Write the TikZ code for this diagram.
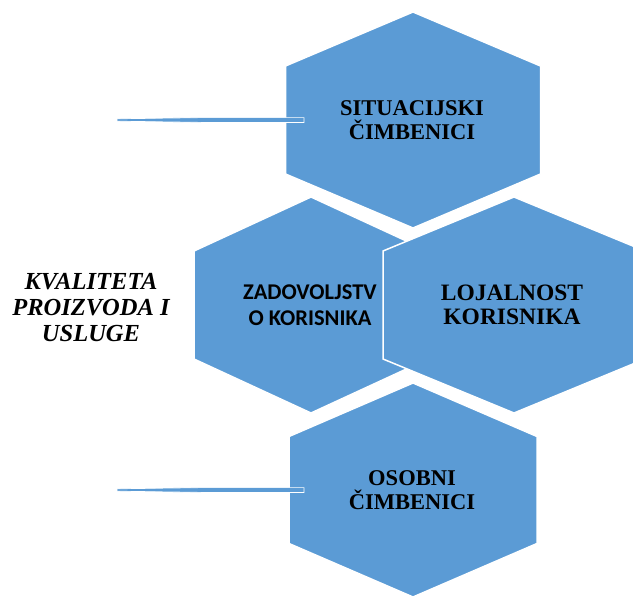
\documentclass[tikz,border=0pt]{standalone}
\usepackage{fontspec}
\setmainfont{Liberation Serif}
\newfontfamily\calibrifont{Carlito}
\usetikzlibrary{calc}
\definecolor{cellBlue}{HTML}{5B9BD5}

\begin{document}
\begin{tikzpicture}[
    x=1pt, y=-1pt,
    hex_style/.style={fill=cellBlue, draw=white, line width=1.5pt},
    tail_style/.style={fill=cellBlue, draw=white, line width=0.7pt},
    serif_label/.style={font=\bfseries\fontsize{22.5}{23.6}\selectfont, align=center, inner sep=0},
    big_label/.style={font=\bfseries\fontsize{23.5}{24.5}\selectfont, align=center, inner sep=0},
    sans_label/.style={font=\calibrifont\bfseries\fontsize{22.5}{26}\selectfont, align=center, inner sep=0},
    side_label/.style={font=\bfseries\itshape\fontsize{24.5}{26}\selectfont, align=center, inner sep=0}
]
    \useasboundingbox (0,0) rectangle (633,597);

    % --- 绘制宏 ---
    % 六边形: 名称, 中心, 半宽, 半高
    \newcommand{\hexcell}[4]{
        \coordinate (#1) at (#2);
        \begin{scope}[shift={(#1)}]
            \filldraw[hex_style] (0,-#4) -- (#3,-#4/2) -- (#3,#4/2) -- (0,#4) -- (-#3,#4/2) -- (-#3,-#4/2) -- cycle;
        \end{scope}
    }
    % 左侧细线: 起点, 终点
    \newcommand{\tailline}[2]{
        \filldraw[tail_style] ($(#1)+(0,-1.2)$) -- ($(#1)!0.45!(#2)+(0,-2.4)$) -- ($(#2)+(0,-2.4)$)
            -- ($(#2)+(0,2.4)$) -- ($(#1)!0.45!(#2)+(0,2.4)$) -- ($(#1)+(0,1.2)$) -- cycle;
    }

    % --- 六边形 ---
    \hexcell{sitCell}{413,120}{127.5}{108}
    \hexcell{zadCell}{311,305}{117}{108}
    \hexcell{lojCell}{514,305}{131}{108}
    \hexcell{osoCell}{413,490}{124}{107}

    % --- 细线 ---
    \coordinate (sitTail) at (117,120);
    \coordinate (sitHead) at (304,120);
    \coordinate (osoTail) at (117,490);
    \coordinate (osoHead) at (304,490);
    \foreach \t/\h in {sitTail/sitHead, osoTail/osoHead} {
        \tailline{\t}{\h}
    }

    % --- 文字 ---
    \node[serif_label] (sit) at (412,120) {SITUACIJSKI\\ČIMBENICI};
    \node[sans_label] (zad) at (310,305) {ZADOVOLJSTV\\O KORISNIKA};
    \node[big_label] (loj) at (512,305) {LOJALNOST\\KORISNIKA};
    \node[serif_label] (oso) at (412,490) {OSOBNI\\ČIMBENICI};
    \node[side_label] (kva) at (91,308) {KVALITETA\\PROIZVODA I\\USLUGE};

\end{tikzpicture}
\end{document}
